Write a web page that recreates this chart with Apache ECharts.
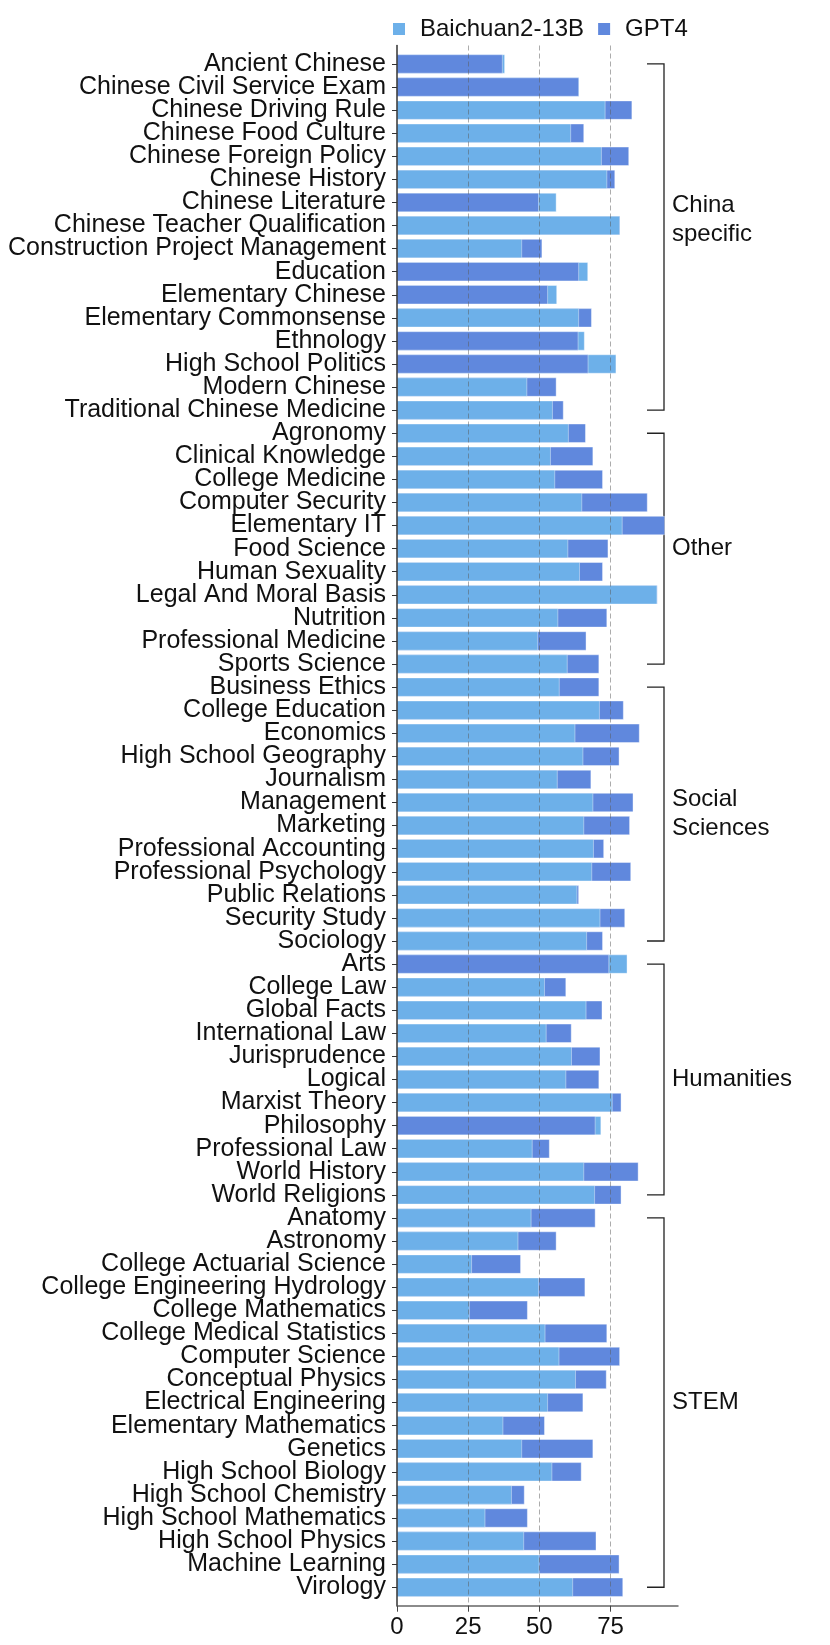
<!DOCTYPE html>
<html>
<head>
<meta charset="utf-8">
<script src="https://cdn.jsdelivr.net/npm/echarts@6/dist/echarts.min.js"></script>
<style>
    html, body { margin: 0; padding: 0; background: #fff; }
    #main { width: 830px; height: 1645px; }
</style>
</head>
<body>
<div id="main"></div>
<script>
// subjects, top to bottom
var subjects = [
    'Ancient Chinese', 'Chinese Civil Service Exam', 'Chinese Driving Rule', 'Chinese Food Culture',
    'Chinese Foreign Policy', 'Chinese History', 'Chinese Literature', 'Chinese Teacher Qualification',
    'Construction Project Management', 'Education', 'Elementary Chinese', 'Elementary Commonsense',
    'Ethnology', 'High School Politics', 'Modern Chinese', 'Traditional Chinese Medicine',
    'Agronomy', 'Clinical Knowledge', 'College Medicine', 'Computer Security', 'Elementary IT',
    'Food Science', 'Human Sexuality', 'Legal And Moral Basis', 'Nutrition', 'Professional Medicine',
    'Sports Science',
    'Business Ethics', 'College Education', 'Economics', 'High School Geography', 'Journalism',
    'Management', 'Marketing', 'Professional Accounting', 'Professional Psychology', 'Public Relations',
    'Security Study', 'Sociology',
    'Arts', 'College Law', 'Global Facts', 'International Law', 'Jurisprudence', 'Logical',
    'Marxist Theory', 'Philosophy', 'Professional Law', 'World History', 'World Religions',
    'Anatomy', 'Astronomy', 'College Actuarial Science', 'College Engineering Hydrology',
    'College Mathematics', 'College Medical Statistics', 'Computer Science', 'Conceptual Physics',
    'Electrical Engineering', 'Elementary Mathematics', 'Genetics', 'High School Biology',
    'High School Chemistry', 'High School Mathematics', 'High School Physics', 'Machine Learning',
    'Virology'
];

var baichuan = [
    37.8, 63.9, 73.1, 61.0, 71.8, 73.7, 55.9, 78.2, 43.8, 67.0, 56.1, 63.8, 65.8, 76.9, 45.6, 54.6,
    60.2, 53.9, 55.4, 64.9, 79.1, 60.0, 64.1, 91.3, 56.5, 49.4, 59.8,
    57.0, 71.1, 62.5, 65.3, 56.3, 68.8, 65.6, 69.0, 68.4, 63.2, 71.3, 66.6,
    80.8, 51.8, 66.4, 52.4, 61.3, 59.3, 75.6, 71.6, 47.5, 65.6, 69.4,
    47.1, 42.5, 26.2, 49.7, 25.4, 52.0, 56.9, 62.7, 52.9, 37.2, 43.8, 54.4, 40.2, 30.9, 44.5, 49.9, 61.7
];

var gpt4 = [
    37.0, 63.8, 82.5, 65.6, 81.4, 76.5, 49.7, 78.3, 50.9, 63.8, 52.9, 68.3, 63.6, 67.1, 55.9, 58.4,
    66.2, 68.8, 72.2, 87.9, 94.0, 74.1, 72.2, 91.4, 73.7, 66.4, 70.9,
    70.9, 79.5, 85.1, 78.0, 68.1, 82.9, 81.7, 72.6, 82.1, 63.8, 80.0, 72.2,
    74.4, 59.3, 72.0, 61.2, 71.3, 70.9, 78.7, 69.6, 53.5, 84.7, 78.7,
    69.6, 55.9, 43.4, 66.0, 45.8, 73.7, 78.2, 73.5, 65.3, 51.8, 68.8, 64.7, 44.7, 45.8, 69.9, 78.0, 79.3
];

// subject groups: first / last row index
var groups = [
    {name: 'China\nspecific', first: 0, last: 15},
    {name: 'Other', first: 16, last: 26},
    {name: 'Social\nSciences', first: 27, last: 38},
    {name: 'Humanities', first: 39, last: 49},
    {name: 'STEM', first: 50, last: 66}
];

var xTicks = [0, 25, 50, 75];

(function(){
    var FONT = 'Liberation Sans';
    var C_BAICHUAN = '#6db0e9';
    var C_GPT4 = '#6088dd';

    var rows = subjects.map(function(s, i){ return i; });
    var yMin = -0.8, yMax = subjects.length - 0.2;
    // 两端加空标签, 避免首尾标签被重叠检测隐藏
    var labelValues = [yMin].concat(rows, [yMax]);
    var xMax = Math.max.apply(null, baichuan.concat(gpt4)) * 1.05;

    // 每行的较小值画在上面
    function barSeries(name, own, other, color){
        return {
            type: 'custom',
            name: name,
            itemStyle: {color: color},
            encode: {x: 0, y: 1},
            data: own.map(function(v, i){ return [v, i]; }),
            renderItem: function(params, api){
                var i = api.value(1);
                var start = api.coord([0, i]);
                var end = api.coord([api.value(0), i]);
                var h = api.size([0, 1])[1] * 0.8;
                return {
                    type: 'rect',
                    shape: {x: start[0], y: start[1] - h / 2, width: end[0] - start[0], height: h},
                    style: {fill: color, stroke: 'rgba(255,255,255,0.4)', lineWidth: 1},
                    z2: own[i] <= other[i] ? 10 : 5
                };
            }
        };
    }

    var chart = echarts.init(document.getElementById('main'));
    var option = {
        animation: false,
        textStyle: {fontFamily: FONT},
        legend: {
            left: 388,
            top: 12,
            icon: 'rect',
            itemWidth: 12,
            itemHeight: 12,
            itemGap: 14,
            textStyle: {fontFamily: FONT, fontSize: 24, color: '#111', padding: [0, 0, 0, 10]},
            data: ['Baichuan2-13B', 'GPT4']
        },
        grid: {left: 397, right: 152, top: 45.5, bottom: 39.3, containLabel: false},
        xAxis: {
            type: 'value',
            min: 0,
            max: xMax,
            interval: 25,
            z: 6,
            axisLine: {show: true, onZero: false, lineStyle: {color: '#666', width: 1.5}},
            axisTick: {show: true, length: 6, customValues: xTicks, lineStyle: {color: '#444'}},
            axisLabel: {customValues: xTicks, margin: 10, fontFamily: FONT, fontSize: 24, color: '#111'},
            splitLine: {
                show: true, showMinLine: false, showMaxLine: true,
                lineStyle: {color: 'rgba(90,90,90,0.5)', type: [5, 3], width: 1}
            }
        },
        yAxis: {
            type: 'value',
            min: yMin,
            max: yMax,
            inverse: true,
            z: 6,
            axisLine: {show: true, onZero: false, lineStyle: {color: '#333', width: 1.5}},
            axisTick: {show: true, length: 5, customValues: rows, lineStyle: {color: '#333'}},
            axisLabel: {
                customValues: labelValues,
                margin: 11,
                fontFamily: FONT,
                fontSize: 25,
                color: '#111',
                formatter: function(v){ return subjects[Math.round(v)] || ''; }
            },
            splitLine: {show: false}
        },
        series: [
            barSeries('Baichuan2-13B', baichuan, gpt4, C_BAICHUAN),
            barSeries('GPT4', gpt4, baichuan, C_GPT4)
        ]
    };
    chart.setOption(option);

    // 右侧分组括号
    var BX = 664, TX = 647;
    var elements = [];
    groups.forEach(function(g, k){
        var y1 = chart.convertToPixel({yAxisIndex: 0}, g.first);
        var y2 = chart.convertToPixel({yAxisIndex: 0}, g.last);
        elements.push({type: 'polyline', shape: {points: [[TX, y1], [BX, y1], [BX, y2], [TX, y2]]}, style: {stroke: '#222', lineWidth: 1.3, fill: null}});
        var mid = (y1 + y2) / 2 + (k === 0 ? -17 : 0);
        elements.push({
            type: 'text',
            x: 672,
            y: mid,
            style: {
                text: g.name, fontFamily: FONT, fontSize: 24, fill: '#111',
                align: 'left', verticalAlign: 'middle', lineHeight: 29
            }
        });
    });
    chart.setOption({graphic: {elements: elements}});
})();
</script>
</body>
</html>
